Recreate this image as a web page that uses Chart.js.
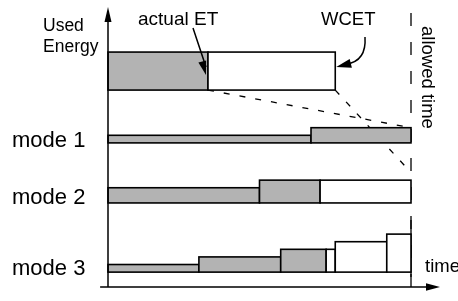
<!DOCTYPE html>
<html>
<head>
<meta charset="utf-8">
<script src="https://cdn.jsdelivr.net/npm/chart.js@4.4.0/dist/chart.umd.min.js"></script>
<style>
  html, body { margin: 0; padding: 0; background: #fff; }
  #wrap { width: 458px; height: 301px; }
</style>
</head>
<body>
<div id="wrap"><canvas id="chartModes" width="458" height="301"></canvas></div>
<script>
(function() {
  'use strict';

  // Datos: tiempo (0..allowedTime) y nivel de energía por segmento
  const rowLabels = ['mode 1', 'mode 2', 'mode 3'];
  const allowedTime = 100;
  const actualEt = 33;
  const wcet = 75;

  const topStart = [0, 33];
  const topEnd = [33, 75];
  const topLevel = [5, 5];
  const topUsed = [true, false];

  const mode1Start = [0, 67];
  const mode1End = [67, 100];
  const mode1Level = [1, 2];
  const mode1Used = [true, true];

  const mode2Start = [0, 50, 70];
  const mode2End = [50, 70, 100];
  const mode2Level = [2, 3, 3];
  const mode2Used = [true, true, false];

  const mode3Start = [0, 30, 57, 72, 75, 92];
  const mode3End = [30, 57, 72, 75, 92, 100];
  const mode3Level = [1, 2, 3, 3, 4, 5];
  const mode3Used = [true, true, true, false, false, false];

  const GREY = '#b3b3b3';
  const FONT = '"Liberation Sans", Arial, Helvetica, sans-serif';
  const CONTAINER_ID = 'chartModes';

  // base de cada fila en unidades del eje y
  const rows = [
    { base: 27.75, start: topStart, end: topEnd, level: topLevel, used: topUsed },
    { base: 20.8, start: mode1Start, end: mode1End, level: mode1Level, used: mode1Used },
    { base: 12.9, start: mode2Start, end: mode2End, level: mode2Level, used: mode2Used },
    { base: 3.8, start: mode3Start, end: mode3End, level: mode3Level, used: mode3Used }
  ];
  const labelY = [147, 204, 275];

  function arrowHead(ctx, x, y, angle, len, half) {
    ctx.save();
    ctx.translate(x, y);
    ctx.rotate(angle);
    ctx.beginPath();
    ctx.moveTo(0, 0);
    ctx.lineTo(-len, -half);
    ctx.lineTo(-len, half);
    ctx.closePath();
    ctx.fillStyle = '#000';
    ctx.fill();
    ctx.restore();
  }

  const diagramPlugin = {
    id: 'energyDiagram',
    afterDraw(chart) {
      const ctx = chart.ctx;
      const px = t => chart.scales.x.getPixelForValue(t);
      const py = v => chart.scales.y.getPixelForValue(v);
      const xEnd = px(allowedTime);

      ctx.save();
      ctx.strokeStyle = '#000';

      // líneas discontinuas
      ctx.lineWidth = 1.3;
      ctx.setLineDash([6, 10]);
      ctx.beginPath();
      ctx.moveTo(px(actualEt), py(rows[0].base));
      ctx.lineTo(xEnd, py(rows[1].base + mode1Level[1]));
      ctx.moveTo(px(wcet), py(rows[0].base));
      ctx.lineTo(xEnd, py(rows[2].base + 4));
      ctx.stroke();

      ctx.setLineDash([13, 16]);
      ctx.lineDashOffset = 0;
      ctx.beginPath();
      ctx.moveTo(xEnd, 13);
      ctx.lineTo(xEnd, 300);
      ctx.stroke();
      ctx.setLineDash([]);
      ctx.beginPath();
      ctx.moveTo(xEnd, 220);
      ctx.lineTo(xEnd, 277);
      ctx.stroke();

      // barras
      ctx.lineWidth = 1.6;
      rows.forEach(r => {
        for (let i = 0; i < r.start.length; i++) {
          const x0 = px(r.start[i]);
          const x1 = px(r.end[i]);
          const y0 = py(r.base);
          const y1 = py(r.base + r.level[i]);
          ctx.fillStyle = r.used[i] ? GREY : '#fff';
          ctx.fillRect(x0, y1, x1 - x0, y0 - y1);
          ctx.strokeRect(x0, y1, x1 - x0, y0 - y1);
        }
      });

      // ejes
      const x0 = px(0);
      const axisY = py(1.84);
      ctx.lineWidth = 1.5;
      ctx.beginPath();
      ctx.moveTo(x0, axisY);
      ctx.lineTo(x0, 18);
      ctx.moveTo(px(-2.6), axisY);
      ctx.lineTo(430, axisY);
      ctx.stroke();
      arrowHead(ctx, x0, 7, -Math.PI / 2, 15, 3.5);
      arrowHead(ctx, 440, axisY, 0, 14, 3.8);

      // flecha actual ET
      const etTipX = px(actualEt) - 2;
      const etTipY = 75;
      ctx.beginPath();
      ctx.moveTo(193, 28);
      ctx.lineTo(etTipX, etTipY - 8);
      ctx.stroke();
      arrowHead(ctx, etTipX, etTipY, Math.atan2(etTipY - 28, etTipX - 193), 14, 4);

      // flecha WCET (curva)
      const wTipX = px(wcet) + 1;
      const wTipY = 67;
      ctx.beginPath();
      ctx.moveTo(365, 37);
      ctx.bezierCurveTo(366, 52, 361, 62, wTipX + 10, wTipY - 3);
      ctx.stroke();
      arrowHead(ctx, wTipX, wTipY, Math.atan2(wTipY - 63, wTipX - 352), 15, 4.5);

      // textos
      ctx.fillStyle = '#000';
      ctx.textBaseline = 'alphabetic';
      ctx.textAlign = 'left';
      ctx.font = '17.5px ' + FONT;
      ctx.fillText('Used', 43, 31);
      ctx.fillText('Energy', 43, 52);
      ctx.font = '19px ' + FONT;
      ctx.fillText('actual ET', 138, 25);
      ctx.font = '18.5px ' + FONT;
      ctx.fillText('WCET', 321, 25);
      ctx.fillText('time', 425, 272);
      ctx.save();
      ctx.translate(422, 26);
      ctx.rotate(Math.PI / 2);
      ctx.fillText('allowed time', 0, 0);
      ctx.restore();

      ctx.font = '22px ' + FONT;
      rowLabels.forEach((lbl, i) => ctx.fillText(lbl, 12, labelY[i]));

      ctx.restore();
    }
  };

  function init() {
    const canvas = document.getElementById(CONTAINER_ID);
    if (!canvas) return;
    new Chart(canvas.getContext('2d'), {
      type: 'scatter',
      data: { datasets: [] },
      options: {
        responsive: false,
        animation: false,
        layout: { padding: 0 },
        plugins: { legend: { display: false }, tooltip: { enabled: false } },
        scales: {
          x: { type: 'linear', display: false, min: -35.644, max: 115.51 },
          y: { type: 'linear', display: false, min: 0, max: 39.6 }
        }
      },
      plugins: [diagramPlugin]
    });
  }

  if (document.readyState === 'loading') {
    document.addEventListener('DOMContentLoaded', init);
  } else {
    init();
  }
})();
</script>
</body>
</html>
